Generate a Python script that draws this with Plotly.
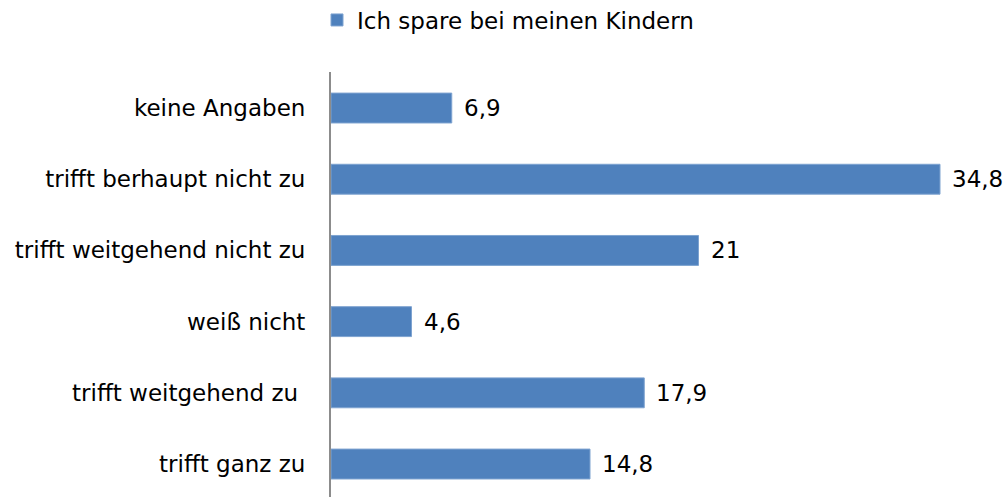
import plotly.graph_objects as go

categories = ["trifft ganz zu", "trifft weitgehend zu ", "weiß nicht",
              "trifft weitgehend nicht zu", "trifft berhaupt nicht zu", "keine Angaben"]
values = [14.8, 17.9, 4.6, 21, 34.8, 6.9]
series_name = "Ich spare bei meinen Kindern"

FONT = "DejaVu Sans, Liberation Sans, Arial, sans-serif"
SIZE = 23
labels = [f"{v:g}".replace(".", ",") for v in values]

fig = go.Figure()
fig.add_trace(go.Bar(
    x=values, y=categories, orientation="h", name=series_name,
    marker=dict(color="#4F81BD", line=dict(color="#7EA3D0", width=1)),
    width=0.42, showlegend=True,
))
for v, c, t in zip(values, categories, labels):
    fig.add_annotation(x=v, y=c, text=t, xanchor="left", yanchor="middle",
                       xshift=10, showarrow=False,
                       font=dict(family=FONT, size=SIZE, color="#000"))

W, H = 1006, 497
fig.update_layout(
    width=W, height=H,
    margin=dict(l=331, r=0, t=72, b=0, autoexpand=False),
    paper_bgcolor="white", plot_bgcolor="white",
    font=dict(family=FONT, size=SIZE, color="#000"),
    showlegend=True,
    legend=dict(orientation="h", xref="container", yref="container",
                x=317 / W, y=1 - 20 / H, xanchor="left", yanchor="middle",
                font=dict(family=FONT, size=SIZE, color="#000"),
                itemwidth=30),
    xaxis=dict(range=[0, 675 / 17.5], showgrid=False, zeroline=False,
               showticklabels=False, ticks="", showline=False, automargin=False),
    yaxis=dict(type="category", categoryorder="array", categoryarray=categories,
               range=[-0.463, 5.506], showgrid=False, zeroline=False,
               showline=True, linecolor="#8C8C8C", linewidth=2,
               ticks="", ticklabelstandoff=19, automargin=False,
               tickfont=dict(family=FONT, size=SIZE, color="#000")),
)
fig.write_html(
    "out.html",
    config={"displayModeBar": False},
    post_script="document.body.style.margin='0';document.body.style.overflow='hidden';",
)
